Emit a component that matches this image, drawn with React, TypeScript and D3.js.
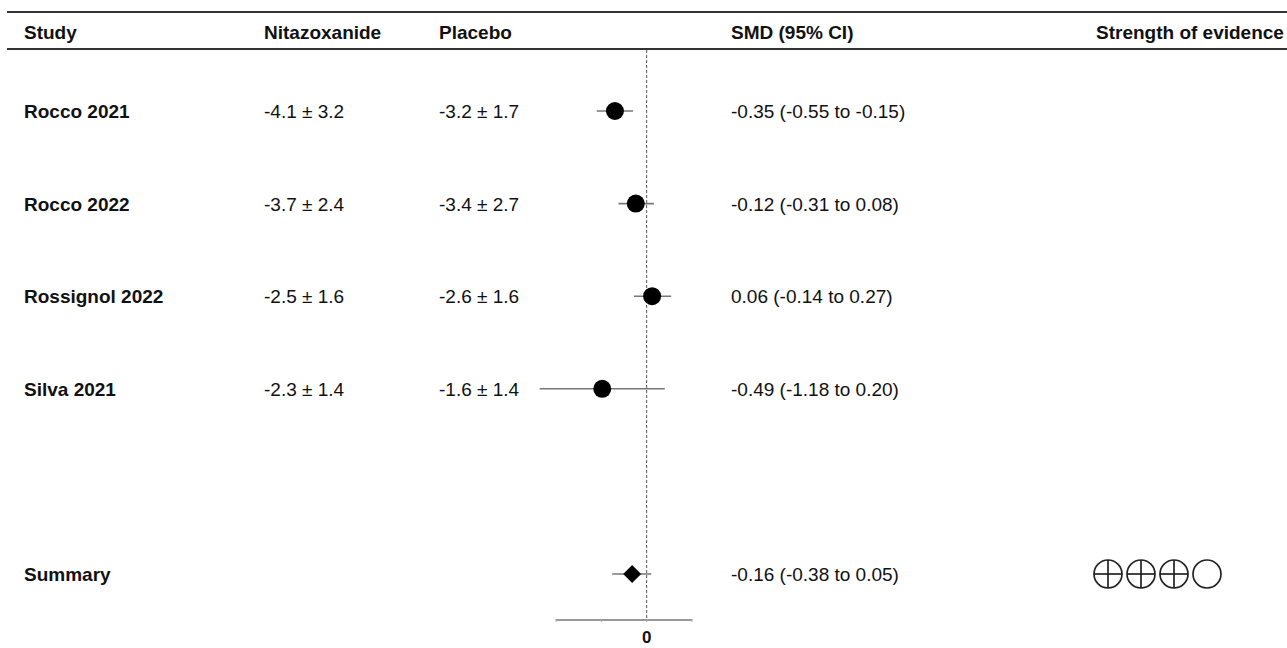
import React from 'react';
import * as d3 from 'd3';

const studies = ['Rocco 2021', 'Rocco 2022', 'Rossignol 2022', 'Silva 2021'];
const nitazoxanide = ['-4.1 ± 3.2', '-3.7 ± 2.4', '-2.5 ± 1.6', '-2.3 ± 1.4'];
const placebo = ['-3.2 ± 1.7', '-3.4 ± 2.7', '-2.6 ± 1.6', '-1.6 ± 1.4'];
const smd = [-0.35, -0.12, 0.06, -0.49];
const lower = [-0.55, -0.31, -0.14, -1.18];
const upper = [-0.15, 0.08, 0.27, 0.2];
const summary = { label: 'Summary', smd: -0.16, lower: -0.38, upper: 0.05 };
const evidence = [1, 1, 1, 0]; // crossed circles vs empty
const headers = ['Study', 'Nitazoxanide', 'Placebo', 'SMD (95% CI)', 'Strength of evidence'];
const axisTicks = [-1, -0.5, 0, 0.5];

const W = 1287;
const H = 648;
const font = '"Liberation Sans", Arial, Helvetica, sans-serif';

export default function App() {
  const x = d3.scaleLinear().domain([-1, 0.5]).range([556, 692]);
  // rows 0..3 studies, row 5 summary
  const y = d3.scaleLinear().domain([0, 5]).range([111, 574]);
  const colX = [24, 264, 439, 731, 1096];
  const fmt = (v: number) => v.toFixed(2);
  const smdText = (m: number, l: number, u: number) => `${fmt(m)} (${fmt(l)} to ${fmt(u)})`;
  const axisY = 620;
  // square symbol rotated 45deg gives an even diamond
  const diamond = d3.symbol().type(d3.symbolSquare).size(160)();

  return (
    <svg
      width={W}
      height={H}
      style={{ position: 'absolute', left: 0, top: 0, background: '#fff' }}
      fontFamily={font}
    >
      <line x1={7} x2={W} y1={12} y2={12} stroke="#333" strokeWidth={2} />
      <line x1={7} x2={W} y1={49} y2={49} stroke="#333" strokeWidth={2} />
      {headers.map((h, i) => (
        <text key={h} x={colX[i]} y={39} fontSize={19} fontWeight="bold" fill="#111">
          {h}
        </text>
      ))}

      {/* zero line */}
      <line x1={x(0)} x2={x(0)} y1={50} y2={axisY} stroke="#555" strokeWidth={1} strokeDasharray="3,2" />

      {studies.map((s, i) => (
        <g key={s}>
          <text x={colX[0]} y={y(i) + 7} fontSize={19} fontWeight="bold" fill="#111">{s}</text>
          <text x={colX[1]} y={y(i) + 7} fontSize={19} fill="#111">{nitazoxanide[i]}</text>
          <text x={colX[2]} y={y(i) + 7} fontSize={19} fill="#111">{placebo[i]}</text>
          <text x={colX[3]} y={y(i) + 7} fontSize={19} fill="#111">{smdText(smd[i], lower[i], upper[i])}</text>
          <line x1={x(lower[i])} x2={x(upper[i])} y1={y(i)} y2={y(i)} stroke="#777" strokeWidth={1.6} />
          <circle cx={x(smd[i])} cy={y(i)} r={9} fill="#000" />
        </g>
      ))}

      <g>
        <text x={colX[0]} y={y(5) + 7} fontSize={19} fontWeight="bold" fill="#111">{summary.label}</text>
        <text x={colX[3]} y={y(5) + 7} fontSize={19} fill="#111">
          {smdText(summary.smd, summary.lower, summary.upper)}
        </text>
        <line x1={x(summary.lower)} x2={x(summary.upper)} y1={y(5)} y2={y(5)} stroke="#777" strokeWidth={1.6} />
        <path d={diamond as string} transform={`translate(${x(summary.smd)},${y(5)}) rotate(45)`} fill="#000" />
        {evidence.map((e, i) => {
          const cx = 1108 + i * 33;
          const cy = y(5);
          const r = 14;
          return (
            <g key={i} stroke="#222" strokeWidth={1.7} fill="none">
              <circle cx={cx} cy={cy} r={r} />
              {e ? (
                <>
                  <line x1={cx - r} x2={cx + r} y1={cy} y2={cy} />
                  <line x1={cx} x2={cx} y1={cy - r} y2={cy + r} />
                </>
              ) : null}
            </g>
          );
        })}
      </g>

      {/* axis */}
      <line x1={x(-1)} x2={x(0.5)} y1={axisY} y2={axisY} stroke="#333" strokeWidth={1.2} />
      {axisTicks.map((t) => (
        <line key={t} x1={x(t)} x2={x(t)} y1={axisY - 1} y2={axisY + 2} stroke="#aaa" strokeWidth={1} />
      ))}
      <text x={x(0)} y={643} fontSize={17} fontWeight="bold" textAnchor="middle" fill="#111">0</text>
    </svg>
  );
}
